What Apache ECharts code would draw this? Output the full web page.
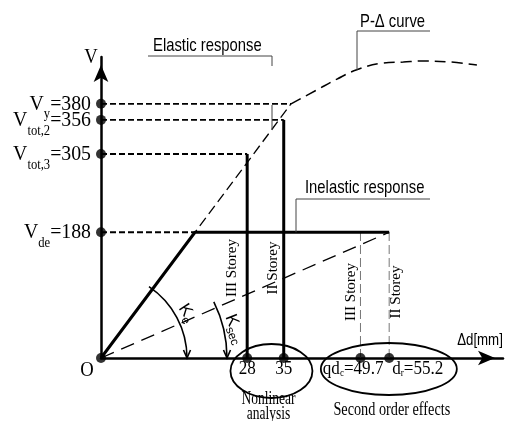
<!DOCTYPE html>
<html>
<head>
<meta charset="utf-8">
<script src="https://cdn.jsdelivr.net/npm/echarts@6/dist/echarts.min.js"></script>
<style>
html, body { margin: 0; background: #fff; }
#chart { width: 510px; height: 421px; }
</style>
</head>
<body>
<div id="chart"></div>
<script>
const SERIF = '"Liberation Serif", "DejaVu Serif", serif';
const SANS = '"Liberation Sans", Arial, sans-serif';

// shear levels marked on the V axis
const shearSubs = ['y', 'tot,2', 'tot,3', 'de'];
const shearValues = [380, 356, 305, 188];

// nonlinear analysis: III storey, II storey
const nonlinearDrift = [28, 35];
const nonlinearShear = [305, 356];

// second order effects: III storey (qd_c), II storey (d_r)
const secondOrderMain = ['qd', 'd'];
const secondOrderSubs = ['c', 'r'];
const secondOrderDrift = [49.7, 55.2];

// elastic branch up to Vy, bilinear branch yields at Vde
const yieldPoint = [36.4, 380];
const designYield = [18, 188];

// P-Delta curve past Vy
const pDeltaX = [36.4, 41.4, 45.2, 49.0, 54.0, 57.9, 61.7, 66.9, 72.0];
const pDeltaV = [380, 401, 417, 431, 441, 442.5, 444, 442.5, 438];

const storeyNames = ['III Storey', 'II Storey'];

const chart = echarts.init(document.getElementById('chart'));

function line(data, lineStyle, z, smooth) {
	return {
		type: 'line',
		data: data,
		symbol: 'none',
		smooth: smooth || false,
		clip: false,
		silent: true,
		z: z,
		lineStyle: Object.assign({ color: '#000' }, lineStyle)
	};
}

// end of the dashed reference line for each shear level
const refEnds = [yieldPoint[0], nonlinearDrift[1], nonlinearDrift[0], designYield[0]];

const series = [];
shearValues.forEach((v, i) => {
	series.push(line([[0, v], [refEnds[i], v]], { width: 1.8, type: [6, 3] }, 2));
});
series.push(line([[0, 0], yieldPoint], { width: 1.3, type: [10, 5] }, 2));
series.push(line(pDeltaX.map((x, i) => [x, pDeltaV[i]]), { width: 1.5, type: [11, 6] }, 2, 0.4));
series.push(line([[0, 0], [secondOrderDrift[1], designYield[1]]], { width: 1.3, type: [14, 8] }, 2));
secondOrderDrift.forEach(d => {
	series.push(line([[d, 0], [d, designYield[1]]], { width: 1, color: '#777', type: [9, 4] }, 2));
});
series.push(line([[0, 0], designYield, [secondOrderDrift[1], designYield[1]]], { width: 3 }, 4));
nonlinearDrift.forEach((d, i) => {
	series.push(line([[d, 0], [d, nonlinearShear[i]]], { width: 3 }, 4));
});
series.push({
	type: 'scatter',
	silent: true,
	z: 6,
	symbolSize: 10,
	itemStyle: { color: '#000' },
	data: shearValues.map(v => [0, v])
		.concat([[0, 0]])
		.concat(nonlinearDrift.concat(secondOrderDrift).map(d => [d, 0]))
});

const axisCommon = {
	type: 'value',
	min: 0,
	axisLine: {
		show: true,
		onZero: false,
		symbol: ['none', 'arrow'],
		symbolSize: [11, 17],
		symbolOffset: [0, -8],
		lineStyle: { color: '#000', width: 2.5 }
	},
	axisTick: { show: false },
	axisLabel: { show: false },
	splitLine: { show: false }
};

chart.setOption({
	animation: false,
	backgroundColor: '#fff',
	grid: { left: 101, right: 7, top: 57, bottom: 63 },
	xAxis: Object.assign({}, axisCommon, { max: 77 }),
	yAxis: Object.assign({}, axisCommon, { max: 450 }),
	series: series
});

const toPx = (x, y) => chart.convertToPixel({ gridIndex: 0 }, [x, y]);
const [ox, oy] = toPx(0, 0);

function text(x, y, str, opt) {
	return {
		type: 'text',
		x: x,
		y: y,
		rotation: opt.rotation || 0,
		scaleX: opt.sx || 1,
		silent: true,
		z: 20,
		style: {
			text: str,
			fontFamily: opt.family || SERIF,
			fontSize: opt.size || 16,
			fill: '#000',
			align: opt.align || 'center',
			verticalAlign: opt.va || 'middle',
			rich: opt.rich
		}
	};
}

function path(points, stroke, width) {
	return {
		type: 'polyline',
		silent: true,
		z: 15,
		shape: { points: points },
		style: { stroke: stroke || '#000', lineWidth: width || 1, fill: null }
	};
}

const yRich = {
	m: { fontFamily: SERIF, fontSize: 22, lineHeight: 22, verticalAlign: 'top' },
	s: { fontFamily: SERIF, fontSize: 14, lineHeight: 22, verticalAlign: 'top', padding: [15, 0, 0, 0] }
};
const xRich = {
	m: { fontFamily: SERIF, fontSize: 19, lineHeight: 19, verticalAlign: 'top' },
	s: { fontFamily: SERIF, fontSize: 10, lineHeight: 19, verticalAlign: 'top', padding: [9, 0, 0, 0] }
};
const kRich = {
	m: { fontFamily: SANS, fontSize: 17, lineHeight: 17, verticalAlign: 'top' },
	s: { fontFamily: SANS, fontSize: 12, lineHeight: 17, verticalAlign: 'top', padding: [8, 0, 0, 0] }
};

const g = [];

// V axis labels
shearValues.forEach((v, i) => {
	const p = toPx(0, v);
	g.push(text(p[0] - 10, p[1], '{m|V}{s|' + shearSubs[i] + '}{m|=' + v + '}', { align: 'right', sx: 0.9, rich: yRich }));
});

// drift labels
nonlinearDrift.forEach(d => {
	const p = toPx(d, 0);
	g.push(text(p[0], p[1] + 11, String(d), { size: 19, sx: 0.9 }));
});
{
	const p1 = toPx(secondOrderDrift[0], 0);
	const p2 = toPx(secondOrderDrift[1], 0);
	g.push(text(p1[0] + 23, oy + 11, '{m|' + secondOrderMain[0] + '}{s|' + secondOrderSubs[0] + '}{m|=' + secondOrderDrift[0] + '}', { align: 'right', sx: 0.9, rich: xRich }));
	g.push(text(p2[0] + 3, oy + 11, '{m|' + secondOrderMain[1] + '}{s|' + secondOrderSubs[1] + '}{m|=' + secondOrderDrift[1] + '}', { align: 'left', sx: 0.9, rich: xRich }));

	// ellipses round the drift labels
	const n1 = toPx(nonlinearDrift[0], 0)[0];
	const n2 = toPx(nonlinearDrift[1], 0)[0];
	g.push({ type: 'ellipse', silent: true, z: 15, shape: { cx: (n1 + n2) / 2 + 6, cy: oy + 13, rx: 41, ry: 27 }, style: { stroke: '#000', lineWidth: 1.8, fill: null } });
	g.push({ type: 'ellipse', silent: true, z: 15, shape: { cx: (p1[0] + p2[0]) / 2 + 14, cy: oy + 11, rx: 68, ry: 26 }, style: { stroke: '#000', lineWidth: 1.8, fill: null } });
	g.push(text((n1 + n2) / 2 + 3, oy + 41, 'Nonlinear', { size: 18, sx: 0.75 }));
	g.push(text((n1 + n2) / 2 + 3, oy + 56, 'analysis', { size: 18, sx: 0.75 }));
	g.push(text((p1[0] + p2[0]) / 2 + 17, oy + 52, 'Second order effects', { size: 19, sx: 0.75 }));
}

// storey labels beside the drift lines
nonlinearDrift.forEach((d, i) => {
	const p = toPx(d, 0);
	g.push(text(p[0] - (i === 0 ? 15 : 11), oy - 90, storeyNames[i], { size: 15, rotation: Math.PI / 2 }));
});
secondOrderDrift.forEach((d, i) => {
	const p = toPx(d, 0);
	g.push(text(p[0] + (i === 0 ? -9 : 7), oy - 66, storeyNames[i], { size: 15, rotation: Math.PI / 2 }));
});

// axis names
g.push(text(ox - 14, oy + 12, 'O', { size: 22, sx: 0.85 }));
g.push(text(ox - 10, 57, 'V', { size: 22, sx: 0.85 }));
g.push(text(480, oy - 18, 'Δd[mm]', { family: SANS, size: 17, sx: 0.78 }));

// callouts
g.push(text(153, 46, 'Elastic response', { family: SANS, size: 19, sx: 0.78, align: 'left' }));
g.push(path([[148, 56], [272, 56], [272, 66]], '#444', 1));
{
	const xd = (272 - ox) / (toPx(1, 0)[0] - ox);
	const pe = toPx(xd, yieldPoint[1] * xd / yieldPoint[0]);
	g.push(path([[272, 105], [272, pe[1]]], '#444', 1));
}
g.push(text(360, 22, 'P-Δ curve', { family: SANS, size: 19, sx: 0.78, align: 'left' }));
g.push(path([[430, 31], [357, 31], [357, 70]], '#444', 1));
g.push(text(305, 188, 'Inelastic response', { family: SANS, size: 19, sx: 0.78, align: 'left' }));
{
	const pv = toPx(0, designYield[1]);
	g.push(path([[430, 199], [296, 199], [296, pv[1]]], '#444', 1));
}

// stiffness arcs
function stiffnessArc(target, r) {
	const p = toPx(target[0], target[1]);
	const a = Math.atan2(p[1] - oy, p[0] - ox);
	g.push({ type: 'arc', silent: true, z: 15, shape: { cx: ox, cy: oy, r: r, startAngle: a - 0.05, endAngle: 0, clockwise: true }, style: { stroke: '#000', lineWidth: 1.6, fill: null } });
	g.push(path([[ox + r - 3.5, oy - 8], [ox + r, oy], [ox + r + 3.5, oy - 8]], '#000', 1.6));
}
stiffnessArc(designYield, 86);
stiffnessArc([secondOrderDrift[1], designYield[1]], 126);
g.push(text(ox + 86, oy - 45, '{m|K}{s|e}', { rotation: -1.0, rich: kRich }));
g.push(text(ox + 134, oy - 29, '{m|K}{s|sec}', { rotation: -1.2, rich: kRich }));

chart.setOption({ graphic: g });
</script>
</body>
</html>
